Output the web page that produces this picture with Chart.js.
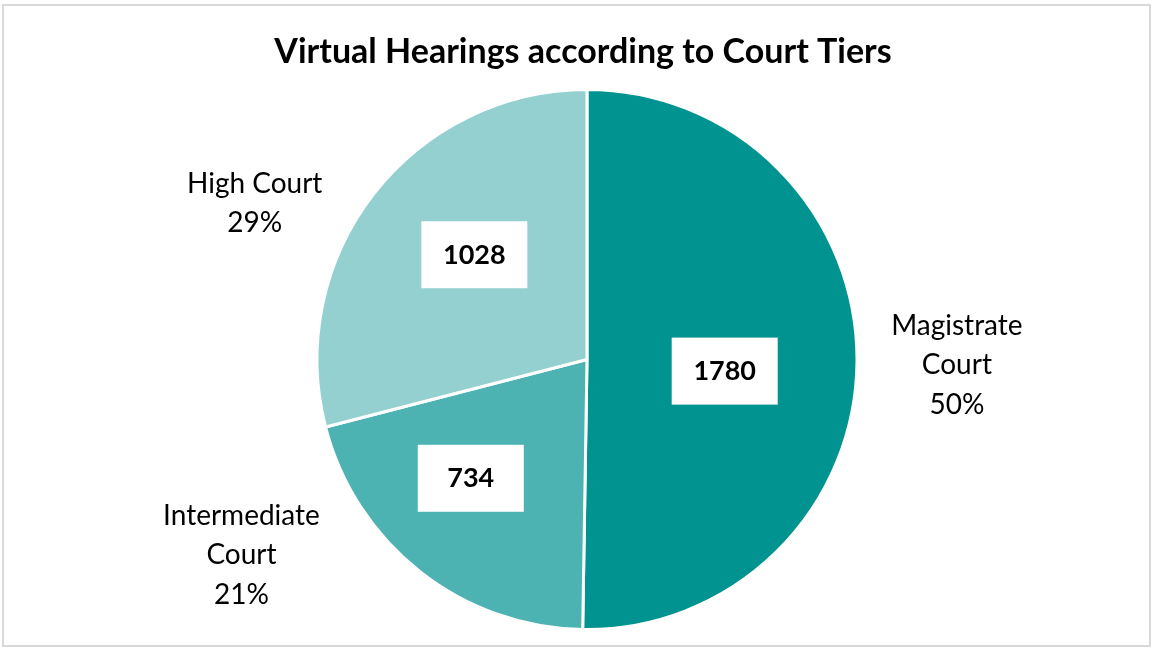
<!DOCTYPE html>
<html>
<head>
<meta charset="utf-8">
<script src="https://cdn.jsdelivr.net/npm/chart.js@4.4.1/dist/chart.umd.min.js"></script>
<style>
  html, body { margin: 0; padding: 0; background: #fff; }
  #wrap { width: 1153px; height: 650px; }
</style>
</head>
<body>
<div id="wrap"><canvas id="courtTiers"></canvas></div>
<script>
// dữ liệu
const courtLabels = ["Magistrate Court", "Intermediate Court", "High Court"];
const labelLines = [["Magistrate", "Court"], ["Intermediate", "Court"], ["High Court"]];
const hearings = [1780, 734, 1028];
const sliceColors = ["#00938F", "#4DB2B2", "#93D0CF"];

const FONT = "Lato, 'Open Sans', sans-serif";

// vị trí nhãn (hệ số bán kính + dịch chuyển)
const labelPlugin = {
  id: "courtLabels",
  afterDatasetsDraw(chart, args, opts) {
    const ctx = chart.ctx;
    const meta = chart.getDatasetMeta(0);
    const total = hearings.reduce((a, b) => a + b, 0);
    ctx.save();
    meta.data.forEach((arc, i) => {
      const p = arc.getProps(["x", "y", "startAngle", "endAngle", "outerRadius"], true);
      const mid = (p.startAngle + p.endAngle) / 2;
      const cx = p.x, cy = p.y, r = p.outerRadius;

      // hộp giá trị
      const f = opts.inner[i];
      const bx = cx + Math.cos(mid) * r * f.k + f.dx;
      const by = cy + Math.sin(mid) * r * f.k + f.dy;
      ctx.fillStyle = "#fff";
      ctx.fillRect(bx - 53, by - 33, 106, 67);
      ctx.fillStyle = "#000";
      ctx.font = "bold 27px " + FONT;
      ctx.textAlign = "center";
      ctx.textBaseline = "middle";
      ctx.fillText(String(hearings[i]), bx, by + 1);

      // nhãn bên ngoài
      const o = opts.outer[i];
      const lx = cx + Math.cos(mid) * r * o.k + o.dx;
      const ly = cy + Math.sin(mid) * r * o.k + o.dy;
      const pct = Math.round(hearings[i] / total * 100) + "%";
      const lines = labelLines[i].concat([pct]);
      const lh = 39.5;
      ctx.font = "28px " + FONT;
      ctx.fillStyle = "#000";
      lines.forEach((t, j) => {
        ctx.fillText(t, lx, ly + (j - (lines.length - 1) / 2) * lh);
      });
    });

    // tiêu đề
    ctx.font = "bold 34px " + FONT;
    ctx.fillStyle = "#000";
    ctx.fillText("Virtual Hearings according to Court Tiers", 583, 52);

    // khung viền
    ctx.strokeStyle = "#d9d9d9";
    ctx.lineWidth = 2;
    ctx.strokeRect(3, 5, chart.width - 6, chart.height - 9);
    ctx.restore();
  }
};

const config = {
  type: "pie",
  data: {
    labels: courtLabels,
    datasets: [{
      data: hearings,
      backgroundColor: sliceColors,
      borderColor: "#fff",
      borderWidth: 3
    }]
  },
  options: {
    responsive: true,
    maintainAspectRatio: false,
    animation: false,
    layout: { padding: { top: 88, bottom: 19, left: 200, right: 179 } },
    plugins: {
      legend: { display: false },
      tooltip: { enabled: false },
      courtLabels: {
        inner: [
          { k: 0.51, dx: 0, dy: 10 },
          { k: 0.6, dx: -16, dy: -9 },
          { k: 0.57, dx: 9, dy: -11 }
        ],
        outer: [
          { k: 1.37, dx: 0, dy: 3 },
          { k: 1.47, dx: -100, dy: -116 },
          { k: 1.36, dx: -42, dy: 69 }
        ]
      }
    }
  },
  plugins: [labelPlugin]
};

new Chart(document.getElementById("courtTiers"), config);
</script>
</body>
</html>
